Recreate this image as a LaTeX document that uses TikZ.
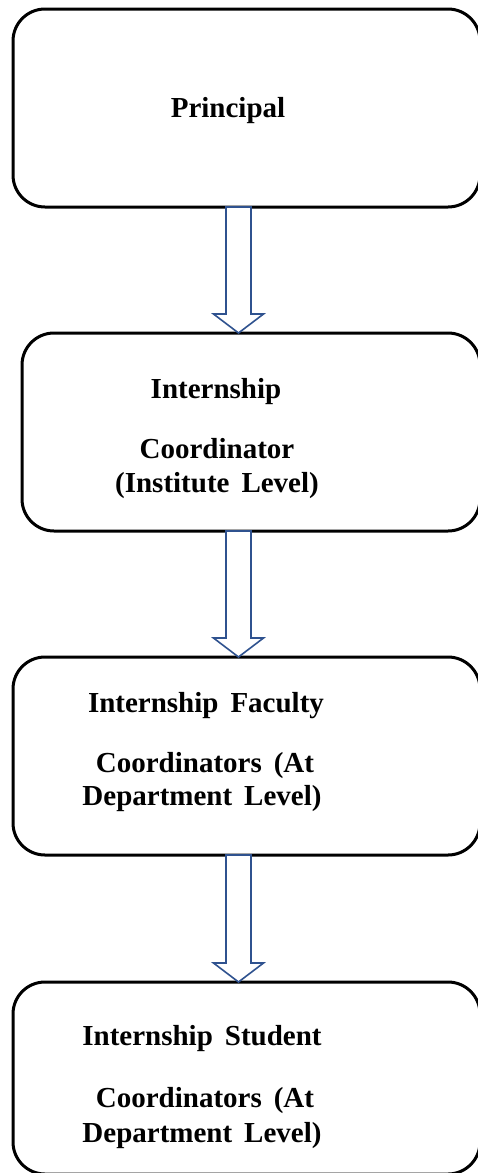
\documentclass[tikz,border=0pt]{standalone}
\usepackage{fontspec}
\setmainfont{Liberation Serif}
\usetikzlibrary{calc}

\definecolor{arrowblue}{RGB}{47,82,143}
\newcommand{\boxfont}{\bfseries\fontsize{29}{35}\selectfont\spaceskip=12pt\relax}

\tikzset{
  box/.style={draw, line width=3pt, rounded corners=32pt, inner sep=0pt, outer sep=0pt},
  txt/.style={anchor=base, inner sep=0pt, font=\boxfont},
  hollow/.style={draw=arrowblue, line width=1.6pt, fill=white, line join=miter},
}

% hollow block arrow from the bottom of one box to the top of the next
\newcommand{\hollowarrow}[2]{%
  \draw[hollow] ($(#1.south -| axis)+(-12.5,0)$) -- ($(#2.north -| axis)+(-12.5,-19)$)
    -- ($(#2.north -| axis)+(-25,-19)$) -- (#2.north -| axis)
    -- ($(#2.north -| axis)+(25,-19)$) -- ($(#2.north -| axis)+(12.5,-19)$)
    -- ($(#1.south -| axis)+(12.5,0)$) -- cycle;
}

\begin{document}
\begin{tikzpicture}[x=1pt,y=-1pt]
    \useasboundingbox (0,0) rectangle (477,1173);
    \coordinate (axis) at (238.5,0);

    \node[box, minimum width=467pt, minimum height=198pt] (principal) at (246.5,108) {};
    \node[box, minimum width=458pt, minimum height=198pt] (institute) at (251,432) {};
    \node[box, minimum width=467pt, minimum height=198pt] (faculty) at (246.5,756) {};
    \node[box, minimum width=467pt, minimum height=192pt] (student) at (246.5,1078) {};

    \node[txt] (p1) at (228,117) {Principal};

    \node[txt] (i1) at (216,398) {Internship};
    \node[txt] (i2) at (217,458) {Coordinator};
    \node[txt] (i3) at (217,492) {(Institute Level)};

    \node[txt] (f1) at (206,712) {Internship Faculty};
    \node[txt] (f2) at (205,772) {Coordinators (At};
    \node[txt] (f3) at (202,805) {Department Level)};

    \node[txt] (s1) at (202,1045) {Internship Student};
    \node[txt] (s2) at (205,1107) {Coordinators (At};
    \node[txt] (s3) at (202,1142) {Department Level)};

    \hollowarrow{principal}{institute}
    \hollowarrow{institute}{faculty}
    \hollowarrow{faculty}{student}
\end{tikzpicture}
\end{document}
